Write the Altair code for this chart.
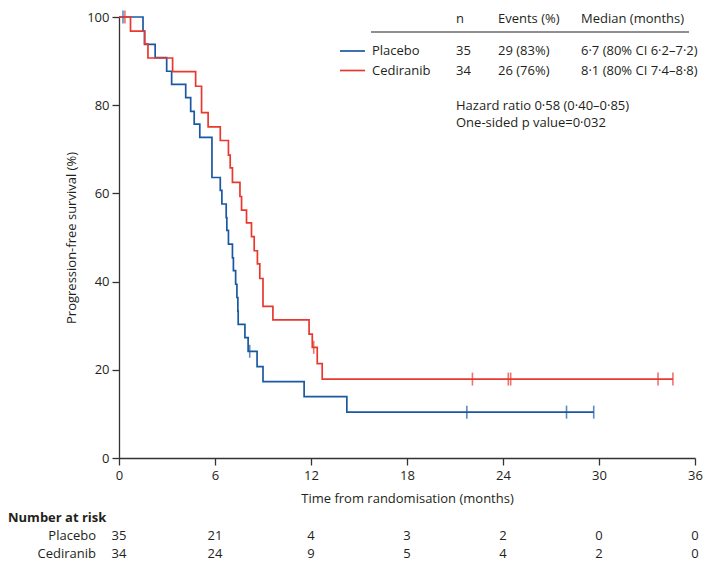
import altair as alt
import pandas as pd

# ---------------- data ----------------
groups = ["Placebo", "Cediranib"]
colors = ["#1b58a3", "#e8382f"]

placebo_times = [0, 1.50, 1.60, 2.26, 2.98, 3.29, 4.17, 4.48, 4.70, 5.05, 5.81, 6.33, 6.43,
                 6.70, 6.74, 6.84, 7.09, 7.15, 7.29, 7.37, 7.43, 7.45, 7.87, 8.07, 8.63, 9.00,
                 11.57, 14.24, 29.67]
placebo_surv = [100, 96.8, 93.8, 90.8, 87.7, 84.7, 81.7, 78.6, 75.7, 72.7, 63.6, 60.7, 57.6,
                54.5, 51.6, 48.5, 45.4, 42.5, 39.4, 36.4, 33.3, 30.3, 27.3, 24.2, 20.7, 17.3,
                13.9, 10.4, 10.4]
placebo_cens_times = [0.25, 8.17, 21.74, 27.97, 29.67]
placebo_cens_surv = [100, 24.2, 10.4, 10.4, 10.4]

cediranib_times = [0, 0.72, 1.60, 1.81, 3.35, 4.79, 5.16, 5.57, 6.33, 6.84, 6.95, 7.09, 7.56,
                   7.66, 7.97, 8.28, 8.45, 8.65, 8.80, 9.00, 9.62, 11.88, 12.08, 12.39, 12.70,
                   34.62]
cediranib_surv = [100, 96.8, 93.9, 90.7, 87.6, 84.3, 78.3, 75.1, 72.0, 68.7, 65.8, 62.5, 59.3,
                  56.2, 53.3, 50.2, 47.0, 44.0, 40.7, 34.4, 31.3, 28.1, 25.1, 21.4, 17.9, 17.9]
cediranib_cens_times = [0.37, 12.17, 22.09, 24.33, 24.48, 33.69, 34.62]
cediranib_cens_surv = [100, 25.1, 17.9, 17.9, 17.9, 17.9, 17.9]

risk_times = [0, 6, 12, 18, 24, 30, 36]
placebo_at_risk = [35, 21, 4, 3, 2, 0, 0]
cediranib_at_risk = [34, 24, 9, 5, 4, 2, 0]

x_ticks = [0, 6, 12, 18, 24, 30, 36]
y_ticks = [0, 20, 40, 60, 80, 100]

header = ["n", "Events (%)", "Median (months)"]
placebo_row = ["35", "29 (83%)", "6·7 (80% CI 6·2–7·2)"]
cediranib_row = ["34", "26 (76%)", "8·1 (80% CI 7·4–8·8)"]
hazard_text = "Hazard ratio 0·58 (0·40–0·85)"
p_text = "One-sided p value=0·032"
x_title = "Time from randomisation (months)"
y_title = "Progression-free survival (%)"
risk_title = "Number at risk"

# ---------------- chart ----------------
FONT = "Open Sans"
TXT = "#231f20"
FS = 13
W, H = 576, 441

xs = alt.Scale(domain=[0, 36], nice=False, zero=False)
ys = alt.Scale(domain=[0, 100], nice=False)
X = alt.X("t:Q", scale=xs, axis=alt.Axis(values=x_ticks, title=x_title, titleY=40,
                                          titleBaseline="middle", tickSize=7, labelPadding=4,
                                          labelFlush=False))
Y = alt.Y("s:Q", scale=ys, axis=alt.Axis(values=y_ticks, title=y_title, titleX=-48,
                                          titleY=H / 2, titleBaseline="middle",
                                          titleAlign="center", tickSize=7, labelPadding=3,
                                          labelFlush=False))

one = pd.DataFrame({"k": [0]})


def curve(times, surv, col):
    df = pd.DataFrame({"t": times, "s": surv})
    return alt.Chart(df).mark_line(interpolate="step-after", strokeWidth=1.7,
                                   color=col).encode(x=X, y=Y)


def censor(times, surv, col):
    df = pd.DataFrame({"t": times, "s": surv})
    return alt.Chart(df).mark_tick(orient="vertical", size=13, thickness=1.6,
                                   color=col).encode(x=X, y=Y)


def label(text, px, py, align="left", weight="normal"):
    return alt.Chart(one).mark_text(align=align, baseline="middle", font=FONT, fontSize=FS,
                                    fontWeight=weight, color=TXT).encode(
        x=alt.value(px), y=alt.value(py), text=alt.value(text))


def risk(values, py):
    df = pd.DataFrame({"t": risk_times, "n": values})
    return alt.Chart(df).mark_text(align="center", baseline="middle", font=FONT,
                                   fontSize=FS, color=TXT).encode(
        x=X, y=alt.value(py), text="n:Q")


layers = [
    curve(placebo_times, placebo_surv, colors[0]),
    censor(placebo_cens_times, placebo_cens_surv, colors[0]),
    curve(cediranib_times, cediranib_surv, colors[1]),
    censor(cediranib_cens_times, cediranib_cens_surv, colors[1]),
]

# legend / summary table
cols_x = [337, 379, 462]
for txt, cx in zip(header, cols_x):
    layers.append(label(txt, cx, 2))
layers.append(alt.Chart(one).mark_rule(color=TXT, strokeWidth=1).encode(
    x=alt.value(252), x2=alt.value(570), y=alt.value(15)))
for row_y, name, row, col in [(34, groups[0], placebo_row, colors[0]),
                              (53.5, groups[1], cediranib_row, colors[1])]:
    layers.append(alt.Chart(one).mark_rule(color=col, strokeWidth=1.7).encode(
        x=alt.value(221), x2=alt.value(246), y=alt.value(row_y)))
    layers.append(label(name, 253, row_y))
    for txt, cx in zip(row, cols_x):
        layers.append(label(txt, cx, row_y))
layers.append(label(hazard_text, 337, 88.5))
layers.append(label(p_text, 337, 105.5))

# number at risk table
layers.append(label(risk_title, -111, 501, weight="bold"))
layers.append(label(groups[0], -23, 519, align="right"))
layers.append(label(groups[1], -23, 537, align="right"))
layers.append(risk(placebo_at_risk, 519))
layers.append(risk(cediranib_at_risk, 537))

chart = alt.layer(*layers).properties(
    width=W, height=H,
    autosize=alt.AutoSizeParams(type="none"),
    padding={"left": 111, "top": 9, "right": 8, "bottom": 103},
).configure_view(stroke=None).configure_axis(
    grid=False, labelFont=FONT, titleFont=FONT, labelFontSize=FS, titleFontSize=FS,
    titleFontWeight="normal", labelColor=TXT, titleColor=TXT, domainColor="#333333",
    tickColor="#333333", domainWidth=1.3, tickWidth=1.3,
)

chart.save("out.html", embed_options={"renderer": "svg", "actions": False})
